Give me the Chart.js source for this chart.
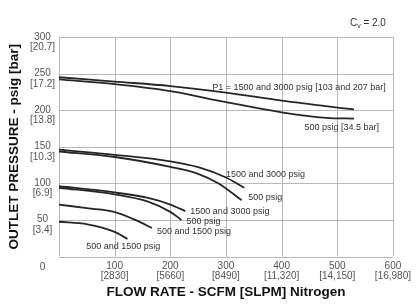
<!DOCTYPE html>
<html>
<head>
<meta charset="utf-8">
<script src="https://cdn.jsdelivr.net/npm/chart.js@4/dist/chart.umd.min.js"></script>
<style>
body{margin:0;background:#fff;}
#wrap{width:416px;height:305px;}
</style>
</head>
<body>
<div id="wrap"><canvas id="chart" width="416" height="305"></canvas></div>
<script>

// flow in SCFM, outlet pressure in psig
let flowP1=[0,100,200,300,400,530];
let psiP1=[245,239,233,224,213,201];
let flow500Top=[0,100,200,300,400,480,530];
let psi500Top=[242,235.5,226,211,197,189.5,188.5];

let flow150Hi=[0,100,200,250,300,333];
let psi150Hi=[146,139,130,122,108,94];
let flow150Lo=[0,100,200,250,286,328];
let psi150Lo=[143.5,136,122.5,113,100,77];

let flow100Hi=[0,100,160,200,227];
let psi100Hi=[96,87.5,80,71,62];
let flow100Lo=[0,100,160,200,220];
let psi100Lo=[94,85,75,61,50];

let flow70=[0,50,99,140,167];
let psi70=[71,66,61,49,39];
let flow50=[0,51,99,123];
let psi50=[47.5,44,34,24];

// tick labels
let xSlpm={100:"[2830]",200:"[5660]",300:"[8490]",400:"[11,320]",500:"[14,150]",600:"[16,980]"};
let yBar={50:"[3.4]",100:"[6.9]",150:"[10.3]",200:"[13.8]",250:"[17.2]",300:"[20.7]"};

// curve labels (text, flow, psig, align)
let curveText=["P1 = 1500 and 3000 psig [103 and 207 bar]","500 psig [34.5 bar]","1500 and 3000 psig","500 psig","1500 and 3000 psig","500 psig","500 and 1500 psig","500 and 1500 psig"];
let curveFlow=[587,575,300,340,236,229,176,49];
let curvePsi=[231,176,112.5,80,62,47.5,33.5,13.5];
let curveAlign=["right","right","left","left","left","left","left","left"];

let font="'Liberation Sans', Arial, sans-serif";
let gridColor="rgb(184,184,184)";

function pts(xs,ys){
return xs.map((x,i)=>({x:x,y:ys[i]}));
}

function line(xs,ys){
return {
data:pts(xs,ys),
borderColor:"#262626",
borderWidth:1.8,
pointRadius:0,
fill:false,
cubicInterpolationMode:"monotone"
};
}

const labelPlugin={
id:"curveLabels",
beforeDatasetsDraw(chart){
// plot grid, drawn through the scales
let ctx=chart.ctx;
let xs=chart.scales.x, ys=chart.scales.y;
let a=chart.chartArea;
ctx.save();
ctx.strokeStyle=gridColor;
ctx.lineWidth=1;
ctx.beginPath();
xs.ticks.forEach(t=>{
let px=Math.round(xs.getPixelForValue(t.value))+0.5;
ctx.moveTo(px,a.top);ctx.lineTo(px,a.bottom);
});
ys.ticks.forEach(t=>{
let py=Math.round(ys.getPixelForValue(t.value))+0.5;
ctx.moveTo(a.left,py);ctx.lineTo(a.right,py);
});
ctx.stroke();
ctx.restore();
},
afterDatasetsDraw(chart){
let ctx=chart.ctx;
let xs=chart.scales.x, ys=chart.scales.y;
ctx.save();
ctx.fillStyle="#333";
ctx.font="9px "+font;
ctx.textBaseline="middle";
curveText.forEach((t,i)=>{
ctx.textAlign=curveAlign[i];
ctx.fillText(t,xs.getPixelForValue(curveFlow[i]),ys.getPixelForValue(curvePsi[i]));
});
// Cv = 2.0
let right=xs.right-7;
ctx.font="10px "+font;
ctx.textAlign="left";
let w1=ctx.measureText("C").width;
ctx.font="7px "+font;
let w2=ctx.measureText("v").width;
ctx.font="10px "+font;
let w3=ctx.measureText(" = 2.0").width;
let x0=right-(w1+w2+w3);
let yy=23;
ctx.fillText("C",x0,yy);
ctx.font="7px "+font;
ctx.fillText("v",x0+w1,yy+3);
ctx.font="10px "+font;
ctx.fillText(" = 2.0",x0+w1+w2,yy);
ctx.restore();
}
};

new Chart(document.getElementById("chart"),{
type:"line",
data:{
datasets:[
line(flowP1,psiP1),
line(flow500Top,psi500Top),
line(flow150Hi,psi150Hi),
line(flow150Lo,psi150Lo),
line(flow100Hi,psi100Hi),
line(flow100Lo,psi100Lo),
line(flow70,psi70),
line(flow50,psi50)
]
},
options:{
responsive:false,
animation:false,
layout:{padding:{top:37,right:20,left:0,bottom:0}},
plugins:{legend:{display:false},tooltip:{enabled:false}},
scales:{
x:{
type:"linear",
min:0,max:600,
afterFit(s){ s.height=48.5; },
grid:{display:false,drawTicks:false},
border:{display:false},
ticks:{
stepSize:100,
padding:5,
color:"#555",
font:{family:font,size:10,lineHeight:1.0},
maxRotation:0,
callback:v=> v===0 ? "" : [String(v),xSlpm[v]]
},
title:{
display:true,
text:"FLOW RATE - SCFM [SLPM] Nitrogen",
color:"#111",
font:{family:font,size:13.5,weight:"bold"},
padding:{top:0,bottom:5}
}
},
y:{
min:0,max:300,
afterFit(s){ s.width=59; },
grid:{display:false,drawTicks:false},
border:{display:false},
ticks:{
stepSize:50,
padding:4,
crossAlign:"center",
labelOffset:5,
color:"#555",
font:{family:font,size:10,lineHeight:1.05},
callback:v=> v===0 ? ["","0"] : [String(v),yBar[v]]
},
title:{
display:true,
text:"OUTLET PRESSURE - psig [bar]",
color:"#111",
font:{family:font,size:13.5,weight:"bold"},
padding:{top:6,bottom:0}
}
}
}
},
plugins:[labelPlugin]
});

</script>
</body>
</html>
